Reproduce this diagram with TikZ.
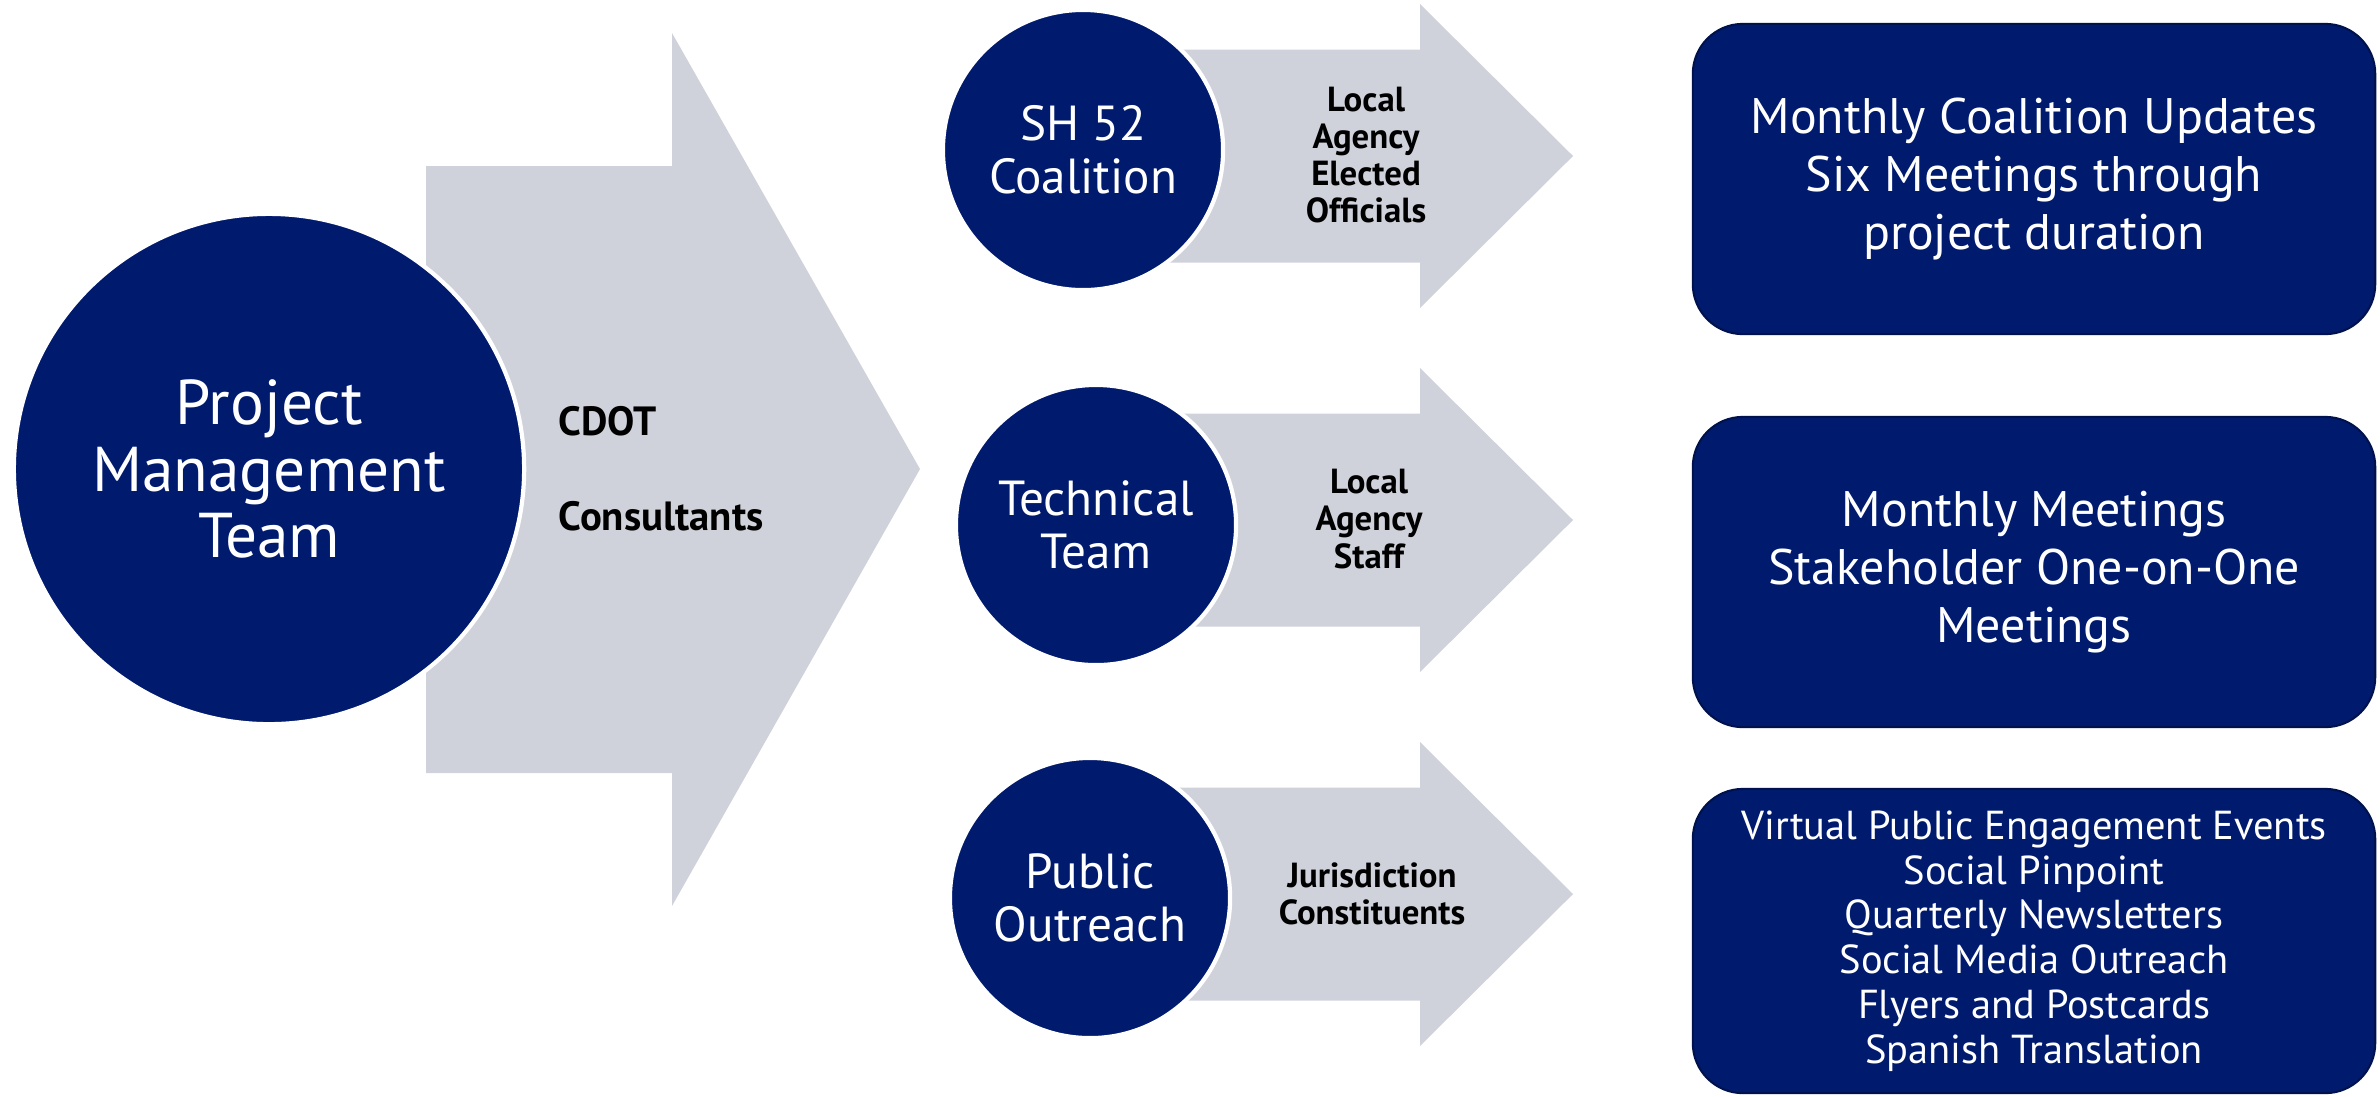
\documentclass[tikz,border=0pt]{standalone}
\usepackage{fontspec}
\setmainfont{PT Sans}
\usepackage{xcolor}
\usepackage{tikz}
\usetikzlibrary{positioning}
\definecolor{pmnavy}{RGB}{0, 26, 110}
\definecolor{pmgray}{RGB}{208, 210, 219}

\begin{document}
\begin{tikzpicture}[
  x=0.01cm, y=-0.01cm,
  flowarrow/.style={fill=pmgray, draw=none},
  hub/.style={circle, fill=pmnavy, draw=white, line width=1.2pt, text=white,
              align=center, inner sep=0pt, minimum size=2.8cm,
              font=\fontsize{14}{15.2}\selectfont},
  grouptext/.style={align=center, text=black, inner sep=0pt,
              font=\bfseries\fontsize{9.9}{10.6}\selectfont},
  outbox/.style={rectangle, rounded corners=0.5cm, fill=pmnavy, draw=pmnavy!70!black,
              line width=0.6pt, text=white, align=center, minimum width=6.82cm,
              font=\fontsize{14.2}{16.6}\selectfont}
]
\useasboundingbox (0,0) rectangle (2380,1096);

% block arrows behind the circles
\draw[flowarrow] (426,166) -- (672,166) -- (672,33) -- (920,469) -- (672,906)
  -- (672,773) -- (426,773) -- cycle;
\foreach \yc/\xs in {156/1083, 520/1096, 894/1090}
  \draw[flowarrow] (\xs,\yc-106.5) -- (1420,\yc-106.5) -- (1420,\yc-152) -- (1573,\yc)
    -- (1420,\yc+152) -- (1420,\yc+106.5) -- (\xs,\yc+106.5) -- cycle;

% circles
\node[hub, minimum size=5.1cm, font=\fontsize{18}{18.9}\selectfont] (pmt) at (269,469)
  {Project\\Management\\Team};
\node[hub] (coal) at (1083,150) {SH 52\\Coalition};
\node[hub] (tech) at (1096,525) {Technical\\Team};
\node[hub] (pub) at (1090,898) {Public\\Outreach};

% texts on the arrows
\node[grouptext, anchor=west, font=\bfseries\fontsize{11.6}{13}\selectfont] (cdot) at (558,421) {CDOT};
\node[grouptext, anchor=west, font=\bfseries\fontsize{11.6}{13}\selectfont] (cons) at (558,516) {Consultants};
\node[grouptext] (elect) at (1366,155) {Local\\Agency\\Elected\\Officials};
\node[grouptext] (staff) at (1369,519) {Local\\Agency\\Staff};
\node[grouptext] (juris) at (1372,894) {Jurisdiction\\Constituents};

% outcome boxes
\node[outbox, minimum height=3.1cm] (upd) at (2034,179)
  {Monthly Coalition Updates\\Six Meetings through\\project duration};
\node[outbox, minimum height=3.1cm] (meet) at (2034,572)
  {Monthly Meetings\\Stakeholder One-on-One\\Meetings};
\node[outbox, minimum height=3.04cm, font=\fontsize{11.5}{12.75}\selectfont] (events) at (2034,941)
  {Virtual Public Engagement Events\\Social Pinpoint\\Quarterly Newsletters\\Social Media Outreach\\Flyers and Postcards\\Spanish Translation};

\end{tikzpicture}
\end{document}
